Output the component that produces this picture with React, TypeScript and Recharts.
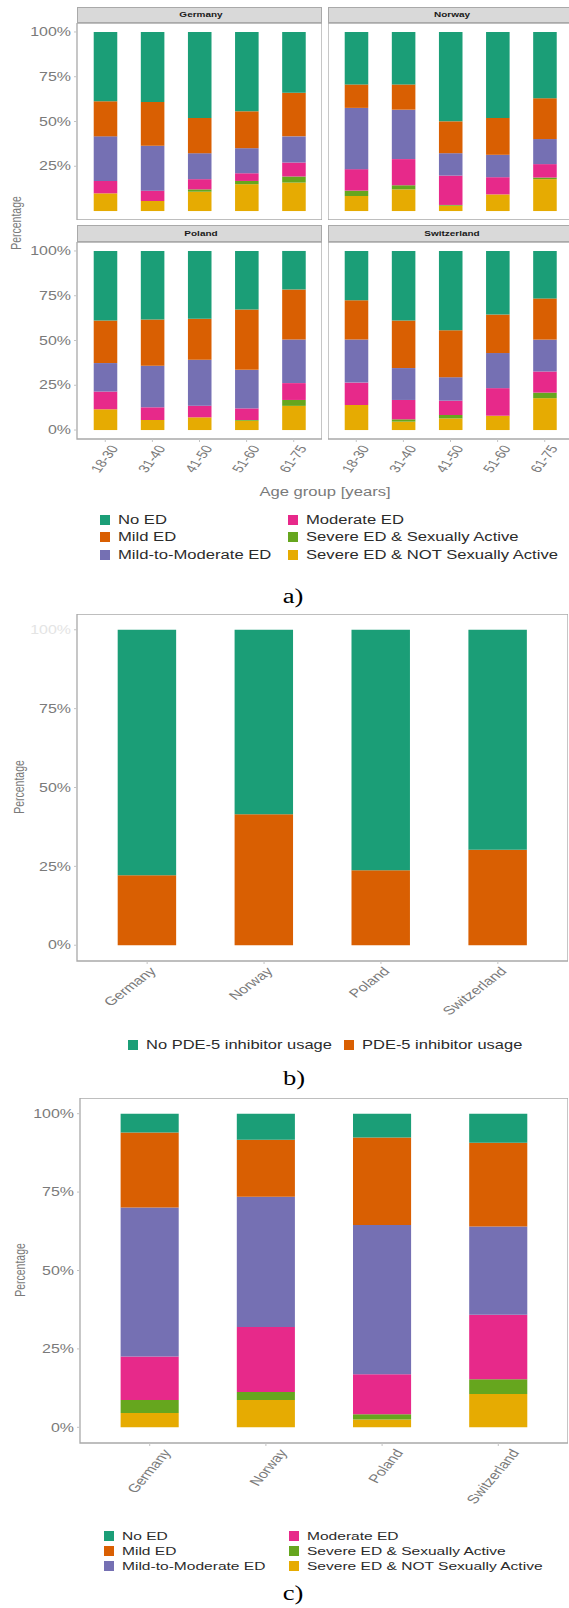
import React from "react";
import { BarChart, Bar, XAxis, YAxis, ReferenceArea } from "recharts";

// the source figure is stretched sideways, so text is scaled the same way
const SX = 1.33;
const SANS = '"Liberation Sans", Arial, sans-serif';
const SERIF = '"Liberation Serif", "Times New Roman", serif';
const TICK_COLOR = "#7a7a7a";
const TEXT_COLOR = "#2b2b2b";
const BORDER = "#a9a9a9";

const ageGroups = ["18-30", "31-40", "41-50", "51-60", "61-75"];
const countries = ["Germany", "Norway", "Poland", "Switzerland"];
const pctTicks = [0, 25, 50, 75, 100];

// ED categories, stacked bottom -> top
const edKeys = ["sevNot", "sevAct", "moderate", "mildMod", "mild", "noEd"];
const edLabels = [
  "Severe ED & NOT Sexually Active",
  "Severe ED & Sexually Active",
  "Moderate ED",
  "Mild-to-Moderate ED",
  "Mild ED",
  "No ED",
];
const edColors = ["#e6ab02", "#66a61e", "#e7298a", "#7570b3", "#d95f02", "#1b9e77"];

// a) ED by age group, per country (values in % of each age group)
const deSevNot = [9.9, 5.6, 10.8, 15.0, 15.9];
const deSevAct = [0, 0, 1.3, 1.8, 3.4];
const deModerate = [6.9, 5.8, 5.7, 4.3, 7.8];
const deMildMod = [24.9, 25.0, 14.5, 14.0, 14.6];
const deMild = [19.6, 24.5, 19.7, 20.6, 24.3];
const deNoEd = [38.7, 39.1, 48.0, 44.3, 34.0];

const noSevNot = [8.4, 12.1, 3.0, 9.3, 17.8];
const noSevAct = [3.0, 2.3, 0.4, 0, 0.9];
const noModerate = [12.0, 14.6, 16.4, 9.6, 7.5];
const noMildMod = [34.2, 27.6, 12.5, 12.5, 14.0];
const noMild = [13.1, 14.1, 17.8, 20.6, 22.8];
const noNoEd = [29.3, 29.3, 49.9, 48.0, 37.0];

const plSevNot = [11.6, 5.6, 7.1, 5.2, 13.5];
const plSevAct = [0, 0, 0, 0.4, 3.3];
const plModerate = [9.9, 7.1, 6.5, 6.5, 9.4];
const plMildMod = [15.9, 23.2, 25.7, 21.5, 24.3];
const plMild = [23.7, 25.8, 22.8, 33.7, 28.0];
const plNoEd = [38.9, 38.3, 37.9, 32.7, 21.5];

const chSevNot = [14.0, 4.7, 6.5, 8.0, 17.8];
const chSevAct = [0, 1.3, 1.9, 0, 3.1];
const chModerate = [12.5, 10.8, 8.0, 15.4, 11.8];
const chMildMod = [24.0, 17.8, 13.1, 19.6, 17.8];
const chMild = [22.0, 26.5, 26.2, 21.5, 23.0];
const chNoEd = [27.5, 38.9, 44.3, 35.5, 26.5];

// b) PDE-5 inhibitor usage by country
const pdeKeys = ["pdeUse", "noPde"];
const pdeLabels = ["PDE-5 inhibitor usage", "No PDE-5 inhibitor usage"];
const pdeColors = ["#d95f02", "#1b9e77"];
const pdeUse = [22.2, 41.5, 23.8, 30.3];
const noPde = [77.8, 58.5, 76.2, 69.7];

// c) ED among PDE-5 inhibitor users, by country
const cSevNot = [4.6, 8.7, 2.5, 10.6];
const cSevAct = [4.1, 2.6, 1.7, 4.7];
const cModerate = [13.9, 20.7, 12.7, 20.6];
const cMildMod = [47.5, 41.5, 47.6, 28.1];
const cMild = [23.9, 18.2, 27.9, 26.7];
const cNoEd = [6.0, 8.3, 7.6, 9.3];

const makeRows = (keys: string[], cols: number[][]) =>
  cols[0].map((_, i) => {
    const r: any = { pos: i + 1 };
    keys.forEach((k, j) => (r[k] = cols[j][i]));
    return r;
  });

const germanyRows = makeRows(edKeys, [deSevNot, deSevAct, deModerate, deMildMod, deMild, deNoEd]);
const norwayRows = makeRows(edKeys, [noSevNot, noSevAct, noModerate, noMildMod, noMild, noNoEd]);
const polandRows = makeRows(edKeys, [plSevNot, plSevAct, plModerate, plMildMod, plMild, plNoEd]);
const swissRows = makeRows(edKeys, [chSevNot, chSevAct, chModerate, chMildMod, chMild, chNoEd]);
const pdeRows = makeRows(pdeKeys, [pdeUse, noPde]);
const cRows = makeRows(edKeys, [cSevNot, cSevAct, cModerate, cMildMod, cMild, cNoEd]);

const YTick = (props: any) => {
  const { x, y, payload, faintTop } = props;
  const faint = faintTop && payload.value === 100;
  return (
    <g transform={`translate(${x},${y})`}>
      <text transform={`scale(${SX},1)`} textAnchor="end" dy="0.35em" fontSize={12}
        fontFamily={SANS} fill={faint ? "#e4e4e4" : TICK_COLOR}>
        {payload.value}%
      </text>
    </g>
  );
};

const makeXTick = (labels: string[], angle: number, dx: number, size: number) => (props: any) => {
  const { x, y, payload } = props;
  return (
    <g transform={`translate(${x + dx},${y})`}>
      <text transform={`scale(${SX},1) rotate(${-angle})`} textAnchor="end" dy="0.72em"
        fontSize={size} fontFamily={SANS} fill={TICK_COLOR}>
        {labels[payload.value - 1]}
      </text>
    </g>
  );
};

interface PanelProps {
  rows: any[];
  keys: string[];
  colors: string[];
  labels: string[];
  plotW: number;
  plotH: number;
  yWidth: number;
  xHeight: number;
  angle: number;
  tickDx: number;
  tickSize?: number;
  faintTop?: boolean;
}

const StackPanel: React.FC<PanelProps> = ({ rows, keys, colors, labels, plotW, plotH, yWidth, xHeight, angle, tickDx, tickSize = 12, faintTop }) => {
  const n = rows.length;
  const unit = plotW / (n - 1 + 1.2);
  const lo = 0.4;
  const hi = n + 0.6;
  return (
    <BarChart width={yWidth + plotW} height={plotH + xHeight} data={rows}
      margin={{ top: 0, right: 0, bottom: 0, left: 0 }}>
      <XAxis type="number" dataKey="pos" domain={[lo, hi]} ticks={rows.map(r => r.pos)}
        allowDataOverflow hide={xHeight === 0} height={xHeight || undefined}
        axisLine={false} tickSize={3} tickMargin={2} tickLine={{ stroke: "#c4c4c4" }}
        tick={makeXTick(labels, angle, tickDx, tickSize)} interval={0} />
      <YAxis type="number" domain={[-5, 105]} ticks={pctTicks} allowDataOverflow
        hide={yWidth === 0} width={yWidth || undefined} axisLine={false}
        tickSize={3} tickMargin={3} tickLine={{ stroke: "#c4c4c4" }}
        tick={(p: any) => <YTick {...p} faintTop={faintTop} />} />
      {keys.map((k, i) => (
        <Bar key={k} dataKey={k} stackId="s" fill={colors[i]} barSize={unit / 2} isAnimationActive={false} />
      ))}
      <ReferenceArea x1={lo} x2={hi} y1={-5} y2={105} fill="none" stroke={BORDER} strokeWidth={1.3} />
    </BarChart>
  );
};

const Abs: React.FC<{ x: number; y: number; children: React.ReactNode }> = ({ x, y, children }) => (
  <div style={{ position: "absolute", left: x, top: y }}>{children}</div>
);

const Txt: React.FC<{ x: number; y: number; size: number; color?: string; family?: string; weight?: number; rotate?: number; children: React.ReactNode }> =
  ({ x, y, size, color = TICK_COLOR, family = SANS, weight = 400, rotate = 0, children }) => (
    <div style={{
      position: "absolute", left: x, top: y, fontSize: size, color, fontFamily: family, fontWeight: weight,
      whiteSpace: "nowrap", lineHeight: 1, transform: `translate(-50%,-50%) scale(${SX},1) rotate(${rotate}deg)`,
    }}>{children}</div>
  );

const Strip: React.FC<{ x: number; y: number; w: number; h: number; label: string }> = ({ x, y, w, h, label }) => (
  <div style={{ position: "absolute", left: x, top: y, width: w, height: h, boxSizing: "border-box",
    background: "#d9d9d9", border: `1.3px solid ${BORDER}` }}>
    <Txt x={w / 2} y={h / 2 - 1} size={7.5} color="#1a1a1a" weight={700}>{label}</Txt>
  </div>
);

const LegendItem: React.FC<{ x: number; y: number; color: string; label: string; size: number; sq?: number }> = ({ x, y, color, label, size, sq = 10 }) => (
  <>
    <div style={{ position: "absolute", left: x, top: y - sq / 2, width: sq, height: sq, background: color }} />
    <div style={{ position: "absolute", left: x + 17.5, top: y, fontSize: size, color: TEXT_COLOR, fontFamily: SANS,
      whiteSpace: "nowrap", lineHeight: 1, transformOrigin: "left center", transform: `translateY(-50%) scale(${SX},1)` }}>
      {label}
    </div>
  </>
);

// legend in two columns, three rows, top category first
const EdLegend: React.FC<{ x1: number; x2: number; y0: number; dy: number; size: number }> = ({ x1, x2, y0, dy, size }) => {
  const order = [5, 4, 3, 2, 1, 0];
  return (
    <>
      {order.map((ci, i) => (
        <LegendItem key={ci} x={i < 3 ? x1 : x2} y={y0 + (i % 3) * dy} color={edColors[ci]} label={edLabels[ci]} size={size} />
      ))}
    </>
  );
};

export default function App() {
  const facetW = 245;
  return (
    <div style={{ position: "absolute", left: 0, top: 0, width: 569, height: 1608, overflow: "hidden", background: "#fff" }}>
      {/* a) */}
      <Strip x={77} y={7} w={facetW} h={16} label="Germany" />
      <Strip x={328} y={7} w={facetW} h={16} label="Norway" />
      <Strip x={77} y={225} w={facetW} h={17} label="Poland" />
      <Strip x={328} y={225} w={facetW} h={17} label="Switzerland" />
      <Abs x={0} y={23}>
        <StackPanel rows={germanyRows} keys={edKeys} colors={edColors} labels={ageGroups} plotW={facetW} plotH={197} yWidth={77} xHeight={0} angle={60} tickDx={4} />
      </Abs>
      <Abs x={328} y={23}>
        <StackPanel rows={norwayRows} keys={edKeys} colors={edColors} labels={ageGroups} plotW={facetW} plotH={197} yWidth={0} xHeight={0} angle={60} tickDx={4} />
      </Abs>
      <Abs x={0} y={242}>
        <StackPanel rows={polandRows} keys={edKeys} colors={edColors} labels={ageGroups} plotW={facetW} plotH={197} yWidth={77} xHeight={50} angle={60} tickDx={4} tickSize={11.5} />
      </Abs>
      <Abs x={328} y={242}>
        <StackPanel rows={swissRows} keys={edKeys} colors={edColors} labels={ageGroups} plotW={facetW} plotH={197} yWidth={0} xHeight={50} angle={60} tickDx={4} tickSize={11.5} />
      </Abs>
      <Txt x={16} y={223} size={10.5} rotate={-90}>Percentage</Txt>
      <Txt x={325} y={492} size={12.5}>Age group [years]</Txt>
      <EdLegend x1={100} x2={288} y0={519.5} dy={17.8} size={12.5} />
      <Txt x={293} y={596} size={20} color="#000" family={SERIF}>a)</Txt>

      {/* b) */}
      <Abs x={0} y={614}>
        <StackPanel rows={pdeRows} keys={pdeKeys} colors={pdeColors} labels={countries} plotW={491} plotH={347} yWidth={77} xHeight={70} angle={45} tickDx={1.5} faintTop />
      </Abs>
      <Txt x={19} y={787} size={10.5} rotate={-90}>Percentage</Txt>
      <LegendItem x={128} y={1045} color={pdeColors[1]} label={pdeLabels[1]} size={12.4} />
      <LegendItem x={344} y={1045} color={pdeColors[0]} label={pdeLabels[0]} size={12.4} />
      <Txt x={294} y={1078} size={20} color="#000" family={SERIF}>b)</Txt>

      {/* c) */}
      <Abs x={0} y={1098}>
        <StackPanel rows={cRows} keys={edKeys} colors={edColors} labels={countries} plotW={488} plotH={345} yWidth={80} xHeight={80} angle={57} tickDx={12} />
      </Abs>
      <Txt x={20} y={1270} size={10.5} rotate={-90}>Percentage</Txt>
      <EdLegend x1={104} x2={289} y0={1536} dy={15.2} size={11.7} />
      <Txt x={293} y={1593} size={20} color="#000" family={SERIF}>c)</Txt>
    </div>
  );
}
